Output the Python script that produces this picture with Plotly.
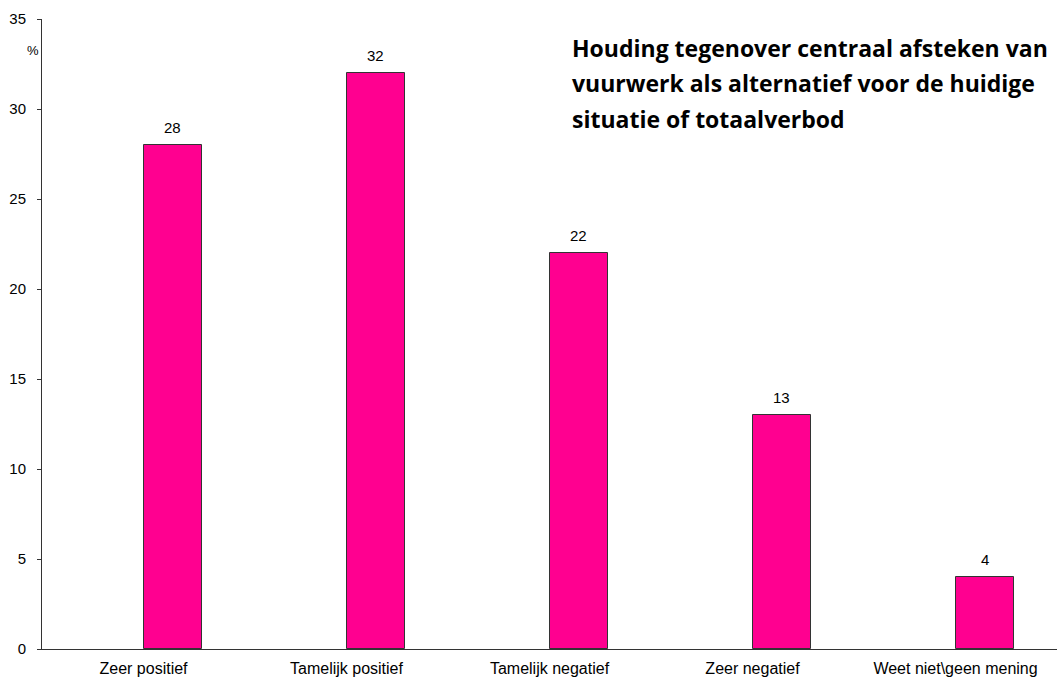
import plotly.graph_objects as go

categories = ["Zeer positief", "Tamelijk positief", "Tamelijk negatief", "Zeer negatief", "Weet niet\\geen mening"]
values = [28, 32, 22, 13, 4]
y_ticks = [0, 5, 10, 15, 20, 25, 30, 35]
title_lines = ["Houding tegenover centraal afsteken van",
               "vuurwerk als alternatief voor de huidige",
               "situatie of totaalverbod"]

BAR_W = 0.286
BAR_OFF = 0.002

fig = go.Figure()
fig.add_trace(go.Bar(
    x=categories, y=values,
    width=BAR_W, offset=BAR_OFF,
    marker=dict(color="#FF0090", line=dict(color="#333333", width=1)),
))

for i, (cat, v) in enumerate(zip(categories, values)):
    fig.add_annotation(
        x=i + BAR_OFF + BAR_W / 2, y=v, xref="x", yref="y", text=str(v),
        showarrow=False, yanchor="bottom", yshift=7,
        font=dict(family="Liberation Sans, Arial", size=15, color="#000000"),
    )

PLOT_H = 682 - 19 - 33
for i, line in enumerate(title_lines):
    fig.add_annotation(
        text="<b>" + line + "</b>", xref="paper", yref="paper",
        x=(570 - 42) / 1015, y=1 - (29 + i * 35.5) / PLOT_H, xanchor="left", yanchor="middle",
        showarrow=False, font=dict(family="Open Sans", size=23, color="#000000"),
    )

fig.add_annotation(text="%", xref="paper", yref="paper", x=-0.0005, y=1 - 31 / PLOT_H,
                   xanchor="right", yanchor="middle", showarrow=False,
                   font=dict(family="Liberation Sans, Arial", size=13, color="#000000"))

fig.update_layout(
    width=1058, height=682,
    margin=dict(l=42, r=1, t=19, b=33, pad=0),
    paper_bgcolor="white", plot_bgcolor="white",
    showlegend=False,
    bargap=0,
    font=dict(family="Liberation Sans, Arial", size=15, color="#000000"),
    xaxis=dict(type="category", range=[-0.5, 4.5], showline=True, linecolor="#333333",
               linewidth=1, ticks="", showgrid=False, tickfont=dict(size=16),
               ticklabelstandoff=5),
    yaxis=dict(range=[0, 35], tickvals=y_ticks, showline=True, linecolor="#333333",
               linewidth=1, ticks="outside", ticklen=4, tickcolor="#333333",
               showgrid=False, zeroline=False, tickfont=dict(size=15),
               ticklabelstandoff=8),
)

fig.write_html("out.html", config={"displayModeBar": False},
               post_script="document.body.style.margin='0';document.body.style.overflow='hidden';")
